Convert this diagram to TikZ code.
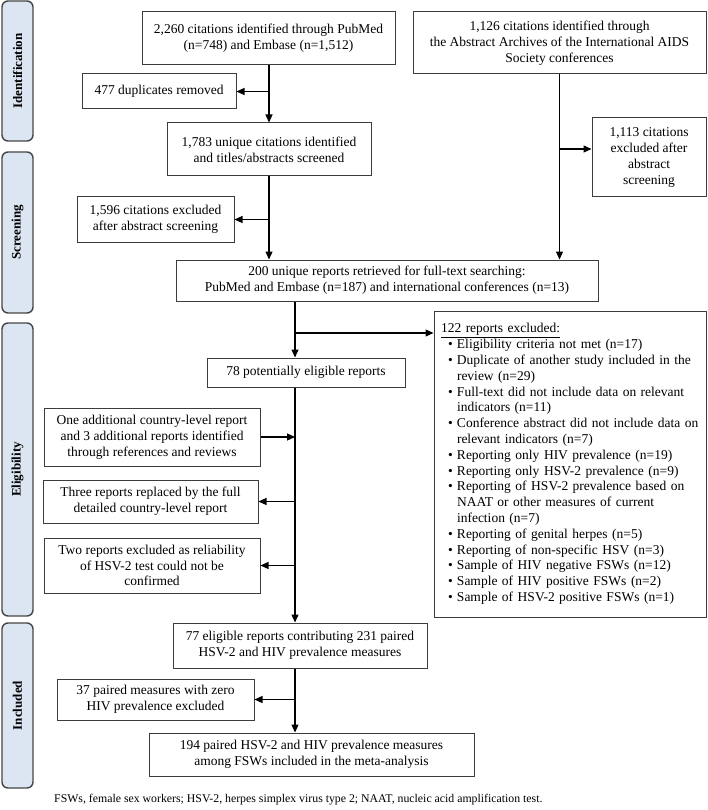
\documentclass[tikz,border=0pt]{standalone}
\usepackage{fontspec}
\setmainfont{Liberation Serif}
\usetikzlibrary{arrows.meta}
\definecolor{boxgray}{RGB}{60,60,60}
\definecolor{sidefill}{RGB}{220,230,242}
\definecolor{sideline}{RGB}{70,70,70}
\newcommand\fsz{\fontsize{13.5}{15.8}\selectfont}
\newcommand\bul{\hspace*{7pt}\makebox[9pt][l]{\textbullet}}
\newcommand\cont{\hspace*{16pt}}
\begin{document}
\begin{tikzpicture}[x=1pt,y=-1pt,
  box/.style={draw=boxgray, line width=1pt, align=center, inner sep=0pt, font=\fsz},
  sidebar/.style={draw=sideline, fill=sidefill, line width=1.4pt, rounded corners=6pt, rotate=90, inner sep=0pt, minimum height=31pt, font=\fontsize{13}{15}\selectfont\bfseries},
  arr/.style={line width=1.2pt, -{Triangle[length=8pt,width=7pt]}}]
\useasboundingbox[fill=white] (0,0) rectangle (708,810);
% side bars
\node[sidebar, minimum width=140pt] (s1) at (17.5,71) {Identification};
\node[sidebar, minimum width=161pt] (s2) at (17.5,232.5) {Screening};
\node[sidebar, minimum width=293pt] (s3) at (17.5,469.5) {Eligibility};
\node[sidebar, minimum width=165pt] (s4) at (17.5,705.5) {Included};
% boxes
\node[box, minimum width=253pt, minimum height=53pt] (A) at (268.5,38.5) {2,260 citations identified through PubMed\\(n=748) and Embase (n=1,512)};
\node[box, minimum width=293pt, minimum height=62pt] (B) at (559.5,43) {1,126 citations identified through\\the Abstract Archives of the International AIDS\\Society conferences};
\node[box, minimum width=154pt, minimum height=35pt] (C) at (159,91.5) {477 duplicates removed};
\node[box, minimum width=204pt, minimum height=53pt] (D) at (269,149.5) {1,783 unique citations identified\\and titles/abstracts screened};
\node[box, minimum width=157pt, minimum height=45pt] (E) at (155.5,219.5) {1,596 citations excluded\\after abstract screening};
\node[box, minimum width=114pt, minimum height=79pt] (F) at (649,157.5) {1,113 citations\\excluded after\\abstract\\screening};
\node[box, minimum width=422pt, minimum height=41pt] (G) at (387,280.5) {200 unique reports retrieved for full-text searching:\\PubMed and Embase (n=187) and international conferences (n=13)};
\node[box, minimum width=198pt, minimum height=29pt] (H) at (306,372.5) {78 potentially eligible reports};
\node[box, minimum width=272pt, minimum height=306pt, align=left, text width=258pt, inner xsep=7pt] (I) at (570,464) {\noindent\underline{122 reports excluded:}\\
\bul Eligibility criteria not met (n=17)\\
\bul Duplicate of another study included in the\\
\cont review (n=29)\\
\bul Full-text did not include data on relevant\\
\cont indicators (n=11)\\
\bul Conference abstract did not include data on\\
\cont relevant indicators (n=7)\\
\bul Reporting only HIV prevalence (n=19)\\
\bul Reporting only HSV-2 prevalence (n=9)\\
\bul Reporting of HSV-2 prevalence based on\\
\cont NAAT or other measures of current\\
\cont infection (n=7)\\
\bul Reporting of genital herpes (n=5)\\
\bul Reporting of non-specific HSV (n=3)\\
\bul Sample of HIV negative FSWs (n=12)\\
\bul Sample of HIV positive FSWs (n=2)\\
\bul Sample of HSV-2 positive FSWs (n=1)};
\node[box, minimum width=216pt, minimum height=58pt] (J) at (152,437) {One additional country-level report\\and 3 additional reports identified\\through references and reviews};
\node[box, minimum width=215pt, minimum height=43pt] (K) at (150.5,501.5) {Three reports replaced by the full\\detailed country-level report};
\node[box, minimum width=216pt, minimum height=55pt] (L) at (152,565.5) {Two reports excluded as reliability\\of HSV-2 test could not be\\confirmed};
\node[box, minimum width=254pt, minimum height=45pt] (M) at (300,645.5) {77 eligible reports contributing 231 paired\\HSV-2 and HIV prevalence measures};
\node[box, minimum width=197pt, minimum height=41pt] (N) at (155.5,699.5) {37 paired measures with zero\\HIV prevalence excluded};
\node[box, minimum width=325pt, minimum height=43pt] (O) at (311.5,754.5) {194 paired HSV-2 and HIV prevalence measures\\among FSWs included in the meta-analysis};
\node[anchor=west, inner sep=0pt, font=\fontsize{11.8}{14}\selectfont] (fn) at (54,800) {FSWs, female sex workers; HSV-2, herpes simplex virus type 2; NAAT, nucleic acid amplification test.};
% spine coordinates
\coordinate (sp) at (295,0);
\coordinate (fb) at (559.5,149);
\coordinate (ib) at (295,333);
% connectors
\draw[arr] (A.south -| D.north) -- (D.north);
\draw[arr] (C.east -| D.north) -- (C.east);
\draw[arr] (D.south) -- (D.south |- G.north);
\draw[arr] (E.east -| D.south) -- (E.east);
\draw[arr] (B.south) -- (B.south |- G.north);
\draw[arr] (fb) -- (fb -| F.west);
\draw[arr] (G.south -| sp) -- (H.north -| sp);
\draw[arr] (ib) -- (ib -| I.west);
\draw[arr] (H.south -| sp) -- (M.north -| sp);
\draw[arr] (J.east) -- (J.east -| sp);
\draw[arr] (K.east -| sp) -- (K.east);
\draw[arr] (L.east -| sp) -- (L.east);
\draw[arr] (M.south -| sp) -- (O.north -| sp);
\draw[arr] (N.east -| sp) -- (N.east);
\end{tikzpicture}
\end{document}
